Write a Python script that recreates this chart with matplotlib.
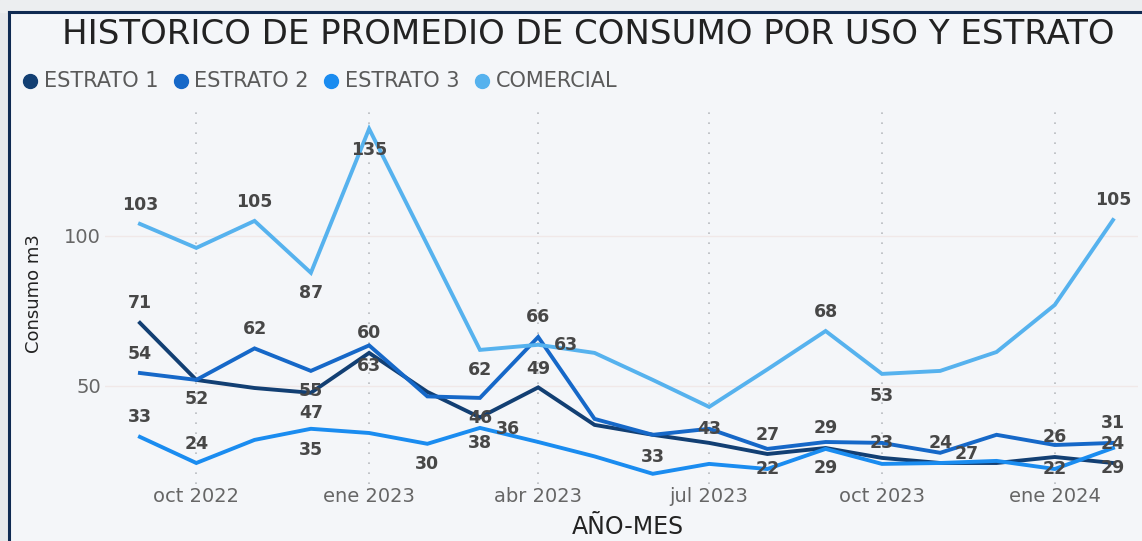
import matplotlib
matplotlib.use("Agg")
import matplotlib.pyplot as plt
import pandas as pd
from matplotlib.lines import Line2D

# ---------------- data ----------------
months = pd.date_range("2022-09-01", periods=18, freq="MS")
estrato1 = [71, 52, 49.3, 47.7, 61, 48, 39.5, 49.5, 37, 33.7, 31, 27.3, 29.3, 26, 24.3, 24.3, 26.3, 24.3]
estrato2 = [54.3, 52, 62.5, 55, 63.5, 46.5, 46, 66.3, 39, 33.7, 35.7, 29, 31.3, 31, 27.7, 33.7, 30.3, 31]
estrato3 = [33, 24.3, 32, 35.7, 34.3, 30.7, 36, 31.3, 26.5, 20.7, 24, 22.3, 29, 24, 24.3, 25, 22.3, 29.3]
comercial = [104, 96, 105, 87.7, 135.7, 97, 62, 63.7, 61, 52, 43, 55.5, 68.3, 54, 55, 61.3, 77, 105.3]
series_names = ["ESTRATO 1", "ESTRATO 2", "ESTRATO 3", "COMERCIAL"]
tick_months = ["2022-10-01", "2023-01-01", "2023-04-01", "2023-07-01", "2023-10-01", "2024-01-01"]
tick_labels = ["oct 2022", "ene 2023", "abr 2023", "jul 2023", "oct 2023", "ene 2024"]

# data labels: (text, series index, month index)
label_texts = ["103", "105", "87", "135", "71", "54", "33", "52", "24", "62", "55", "47", "35",
               "60", "63", "30", "62", "46", "38", "36", "66", "49", "63", "33", "43", "27",
               "22", "29", "29", "68", "53", "23", "24", "27", "26", "22", "31", "24", "29", "105"]
label_series = [3, 3, 3, 3, 0, 1, 2, 0, 2, 1, 1, 0, 2,
                1, 0, 2, 3, 1, 2, 2, 1, 0, 3, 1, 3, 1,
                2, 1, 2, 3, 3, 1, 1, 0, 1, 2, 1, 2, 0, 3]
label_month = [0, 2, 3, 4, 0, 0, 0, 1, 1, 2, 3, 3, 3,
               4, 4, 5, 6, 6, 6, 7, 7, 7, 7, 9, 10, 11,
               11, 12, 12, 12, 13, 13, 14, 15, 16, 16, 17, 17, 17, 17]

# --------------- style ----------------
colors = ["#123f73", "#1668c8", "#1a8cf0", "#56b2ee"]
label_dxdy = [(0, -19), (0, -19), (0, 20), (0, 21), (0, -20), (0, -19), (0, -20), (0, 19), (0, -19),
              (0, -19), (0, 20), (0, 20), (0, 21), (0, -12), (0, 13), (0, 20), (0, 20), (0, 20),
              (0, 15), (-30, -13), (0, -20), (0, -18), (28, 0), (0, 22), (0, 22), (0, -14),
              (0, 0), (0, -14), (0, 19), (0, -19), (0, 22), (0, 0), (0, -10), (-30, -9), (0, -8),
              (0, 0), (0, -20), (0, -4), (0, 5), (0, -20)]

W, H = 1142, 541
fig = plt.figure(figsize=(W / 100, H / 100), dpi=100)
fig.patch.set_facecolor("#f4f6f9")

# decorative frame
fig.add_artist(plt.Rectangle((0, 0), 8 / W, 1, transform=fig.transFigure, color="#e6e8eb", zorder=0))
fig.add_artist(plt.Rectangle((0, 1 - 12 / H), 1, 12 / H, transform=fig.transFigure, color="#eceef0", zorder=0))
fig.add_artist(Line2D([8.5 / W, 8.5 / W], [0, 1 - 12 / H], transform=fig.transFigure, color="#0f2a52", lw=2.2))
fig.add_artist(Line2D([8.5 / W, 1], [1 - 12 / H, 1 - 12 / H], transform=fig.transFigure, color="#0f2a52", lw=2.2))

ax_l, ax_r, ax_t, ax_b = 105, 1138, 112, 484
ax = fig.add_axes([ax_l / W, 1 - ax_b / H, (ax_r - ax_l) / W, (ax_b - ax_t) / H])
ax.set_facecolor("none")

all_series = [estrato1, estrato2, estrato3, comercial]
for vals, c, name in zip(all_series, colors, series_names):
    ax.plot(months, vals, color=c, lw=2.8, solid_joinstyle="miter", label=name, zorder=3)

ax.set_ylim(17.3, 141.3)
ax.set_xlim(months[0] - pd.Timedelta(days=18.6), months[-1] + pd.Timedelta(days=13.3))

ax.set_yticks([50, 100])
ax.set_yticklabels(["50", "100"], fontsize=14, color="#666666", family="DejaVu Sans")
ticks = pd.to_datetime(tick_months)
ax.set_xticks(ticks)
ax.set_xticklabels(tick_labels, fontsize=14, color="#666666", family="DejaVu Sans")
ax.tick_params(length=0)
ax.tick_params(axis="x", pad=2)
ax.tick_params(axis="y", pad=3)
for s in ax.spines.values():
    s.set_visible(False)
for t in ticks:
    ax.axvline(t, color="#b9bcc0", lw=1.2, ls=(0, (1, 5)), zorder=1)
for yv in [50, 100]:
    ax.axhline(yv, color="#f0e8e8", lw=1.0, zorder=1)

for txt, si, mi, (dx, dy) in zip(label_texts, label_series, label_month, label_dxdy):
    ax.annotate(txt, (months[mi], all_series[si][mi]), xytext=(dx * 0.72, -dy * 0.72),
                textcoords="offset points", ha="center", va="center",
                fontsize=12.5, fontweight="bold", color="#474747", family="DejaVu Sans", zorder=5)

fig.text(34 / W, 1 - 294 / H, "Consumo m3", fontsize=13, color="#222222", rotation=90,
         ha="center", va="center", family="DejaVu Sans")
fig.text(628 / W, 1 - 527 / H, "AÑO-MES", fontsize=17, color="#222222",
         ha="center", va="center", family="DejaVu Sans")

fig.text(62 / W, 1 - 35 / H, "HISTORICO DE PROMEDIO DE CONSUMO POR USO Y ESTRATO",
         fontsize=24.5, color="#222222", ha="left", va="center", family="DejaVu Sans")

# legend
cx = 30
for name, c in zip(series_names, colors):
    fig.add_artist(Line2D([cx / W], [1 - 81 / H], marker="o", markersize=10, color=c,
                          transform=fig.transFigure, lw=0))
    t = fig.text((cx + 14) / W, 1 - 81 / H, name, fontsize=15, color="#5a5a5a", ha="left",
                 va="center", family="DejaVu Sans")
    fig.canvas.draw()
    bb = t.get_window_extent()
    cx = bb.x1 + 22

fig.savefig("out.png", dpi=100, facecolor=fig.get_facecolor())
